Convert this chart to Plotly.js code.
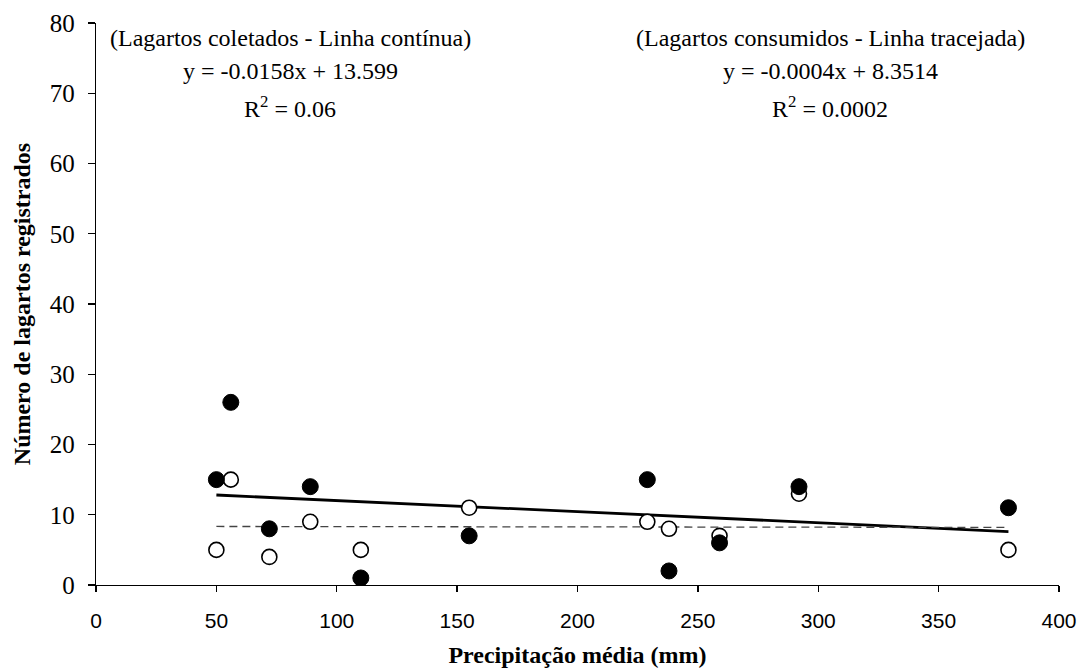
<!DOCTYPE html>
<html><head><meta charset="utf-8">
<script src="https://cdn.plot.ly/plotly-3.0.1.min.js"></script>
<style>html,body{margin:0;padding:0;background:#fff}</style>
</head><body><div id="chart" style="width:1081px;height:670px"></div>
<script>
// ---- data ----
const precipitacao = [50, 56, 72, 89, 110, 155, 229, 238, 259, 292, 379];
const coletados    = [15, 26, 8, 14, 1, 7, 15, 2, 6, 14, 11];   // filled circles, solid line
const consumidos   = [5, 15, 4, 9, 5, 11, 9, 8, 7, 13, 5];      // open circles, dashed line
const seriesLabels = ['(Lagartos coletados - Linha contínua)', '(Lagartos consumidos - Linha tracejada)'];
const slopes       = [-0.0158, -0.0004];
const intercepts   = [13.599, 8.3514];
const r2Labels     = ['0.06', '0.0002'];
const xTickVals    = [0, 50, 100, 150, 200, 250, 300, 350, 400];
const yTickVals    = [0, 10, 20, 30, 40, 50, 60, 70, 80];
const xTitle = 'Precipitação média (mm)';
const yTitle = 'Número de lagartos registrados';

const SERIF = '"Liberation Serif", "Times New Roman", serif';
const SANS = '"Liberation Sans", Arial, sans-serif';

const xMin = Math.min(...precipitacao), xMax = Math.max(...precipitacao);
const trendX = [xMin, xMax];
const trendY = i => trendX.map(x => slopes[i] * x + intercepts[i]);

const fmt = v => (v < 0 ? '-' : '') + Math.abs(v);
const eqText = i => 'y = ' + fmt(slopes[i]) + 'x + ' + intercepts[i];

const traces = [
  { x: trendX, y: trendY(0), mode: 'lines', line: {color: '#000', width: 2.8}, hoverinfo: 'skip' },
  { x: trendX, y: trendY(1), mode: 'lines', line: {color: '#444', width: 1.3, dash: '8px,5px'}, hoverinfo: 'skip' },
  { x: precipitacao, y: consumidos, mode: 'markers',
    marker: {symbol: 'circle', size: 15, color: '#fff', line: {color: '#000', width: 1.6}} },
  { x: precipitacao, y: coletados, mode: 'markers',
    marker: {symbol: 'circle', size: 16, color: '#000', line: {color: '#000', width: 1}} }
];

const annFont = {family: SERIF, size: 24, color: '#000'};
const colX = [80.6, 305];
const rowY = [77.9, 73.2, 68.1];
const annotations = [];
[0, 1].forEach(i => {
  annotations.push({x: colX[i], y: rowY[0], text: seriesLabels[i], showarrow: false, font: annFont, xanchor: 'center', yanchor: 'middle'});
  annotations.push({x: colX[i], y: rowY[1], text: eqText(i), showarrow: false, font: annFont, xanchor: 'center', yanchor: 'middle'});
  annotations.push({x: colX[i], y: rowY[2], text: 'R<sup>2</sup> = ' + r2Labels[i], showarrow: false, font: annFont, xanchor: 'center', yanchor: 'middle'});
});

const layout = {
  width: 1081, height: 670,
  margin: {l: 96, r: 22, t: 23, b: 85},
  paper_bgcolor: '#fff', plot_bgcolor: '#fff',
  showlegend: false,
  xaxis: {
    range: [0, 400], tickvals: xTickVals, ticks: 'outside', ticklen: 6, tickwidth: 1.3, tickcolor: '#000',
    showline: true, linecolor: '#000', linewidth: 1.3, showgrid: false, zeroline: false,
    tickfont: {family: SANS, size: 21, color: '#000'}, ticklabelstandoff: 10,
    title: {text: xTitle, font: {family: SERIF, size: 24, color: '#000', weight: 'bold'}, standoff: 15}
  },
  yaxis: {
    range: [0, 80], tickvals: yTickVals, ticks: 'outside', ticklen: 7, tickwidth: 1.3, tickcolor: '#000',
    showline: true, linecolor: '#000', linewidth: 1.3, showgrid: false, zeroline: false,
    tickfont: {family: SERIF, size: 25, color: '#000'}, ticklabelstandoff: 8,
    title: {text: yTitle, font: {family: SERIF, size: 24, color: '#000', weight: 'bold'}, standoff: 12}
  },
  annotations: annotations
};

Plotly.newPlot('chart', traces, layout, {displayModeBar: false, staticPlot: true});
</script></body></html>
